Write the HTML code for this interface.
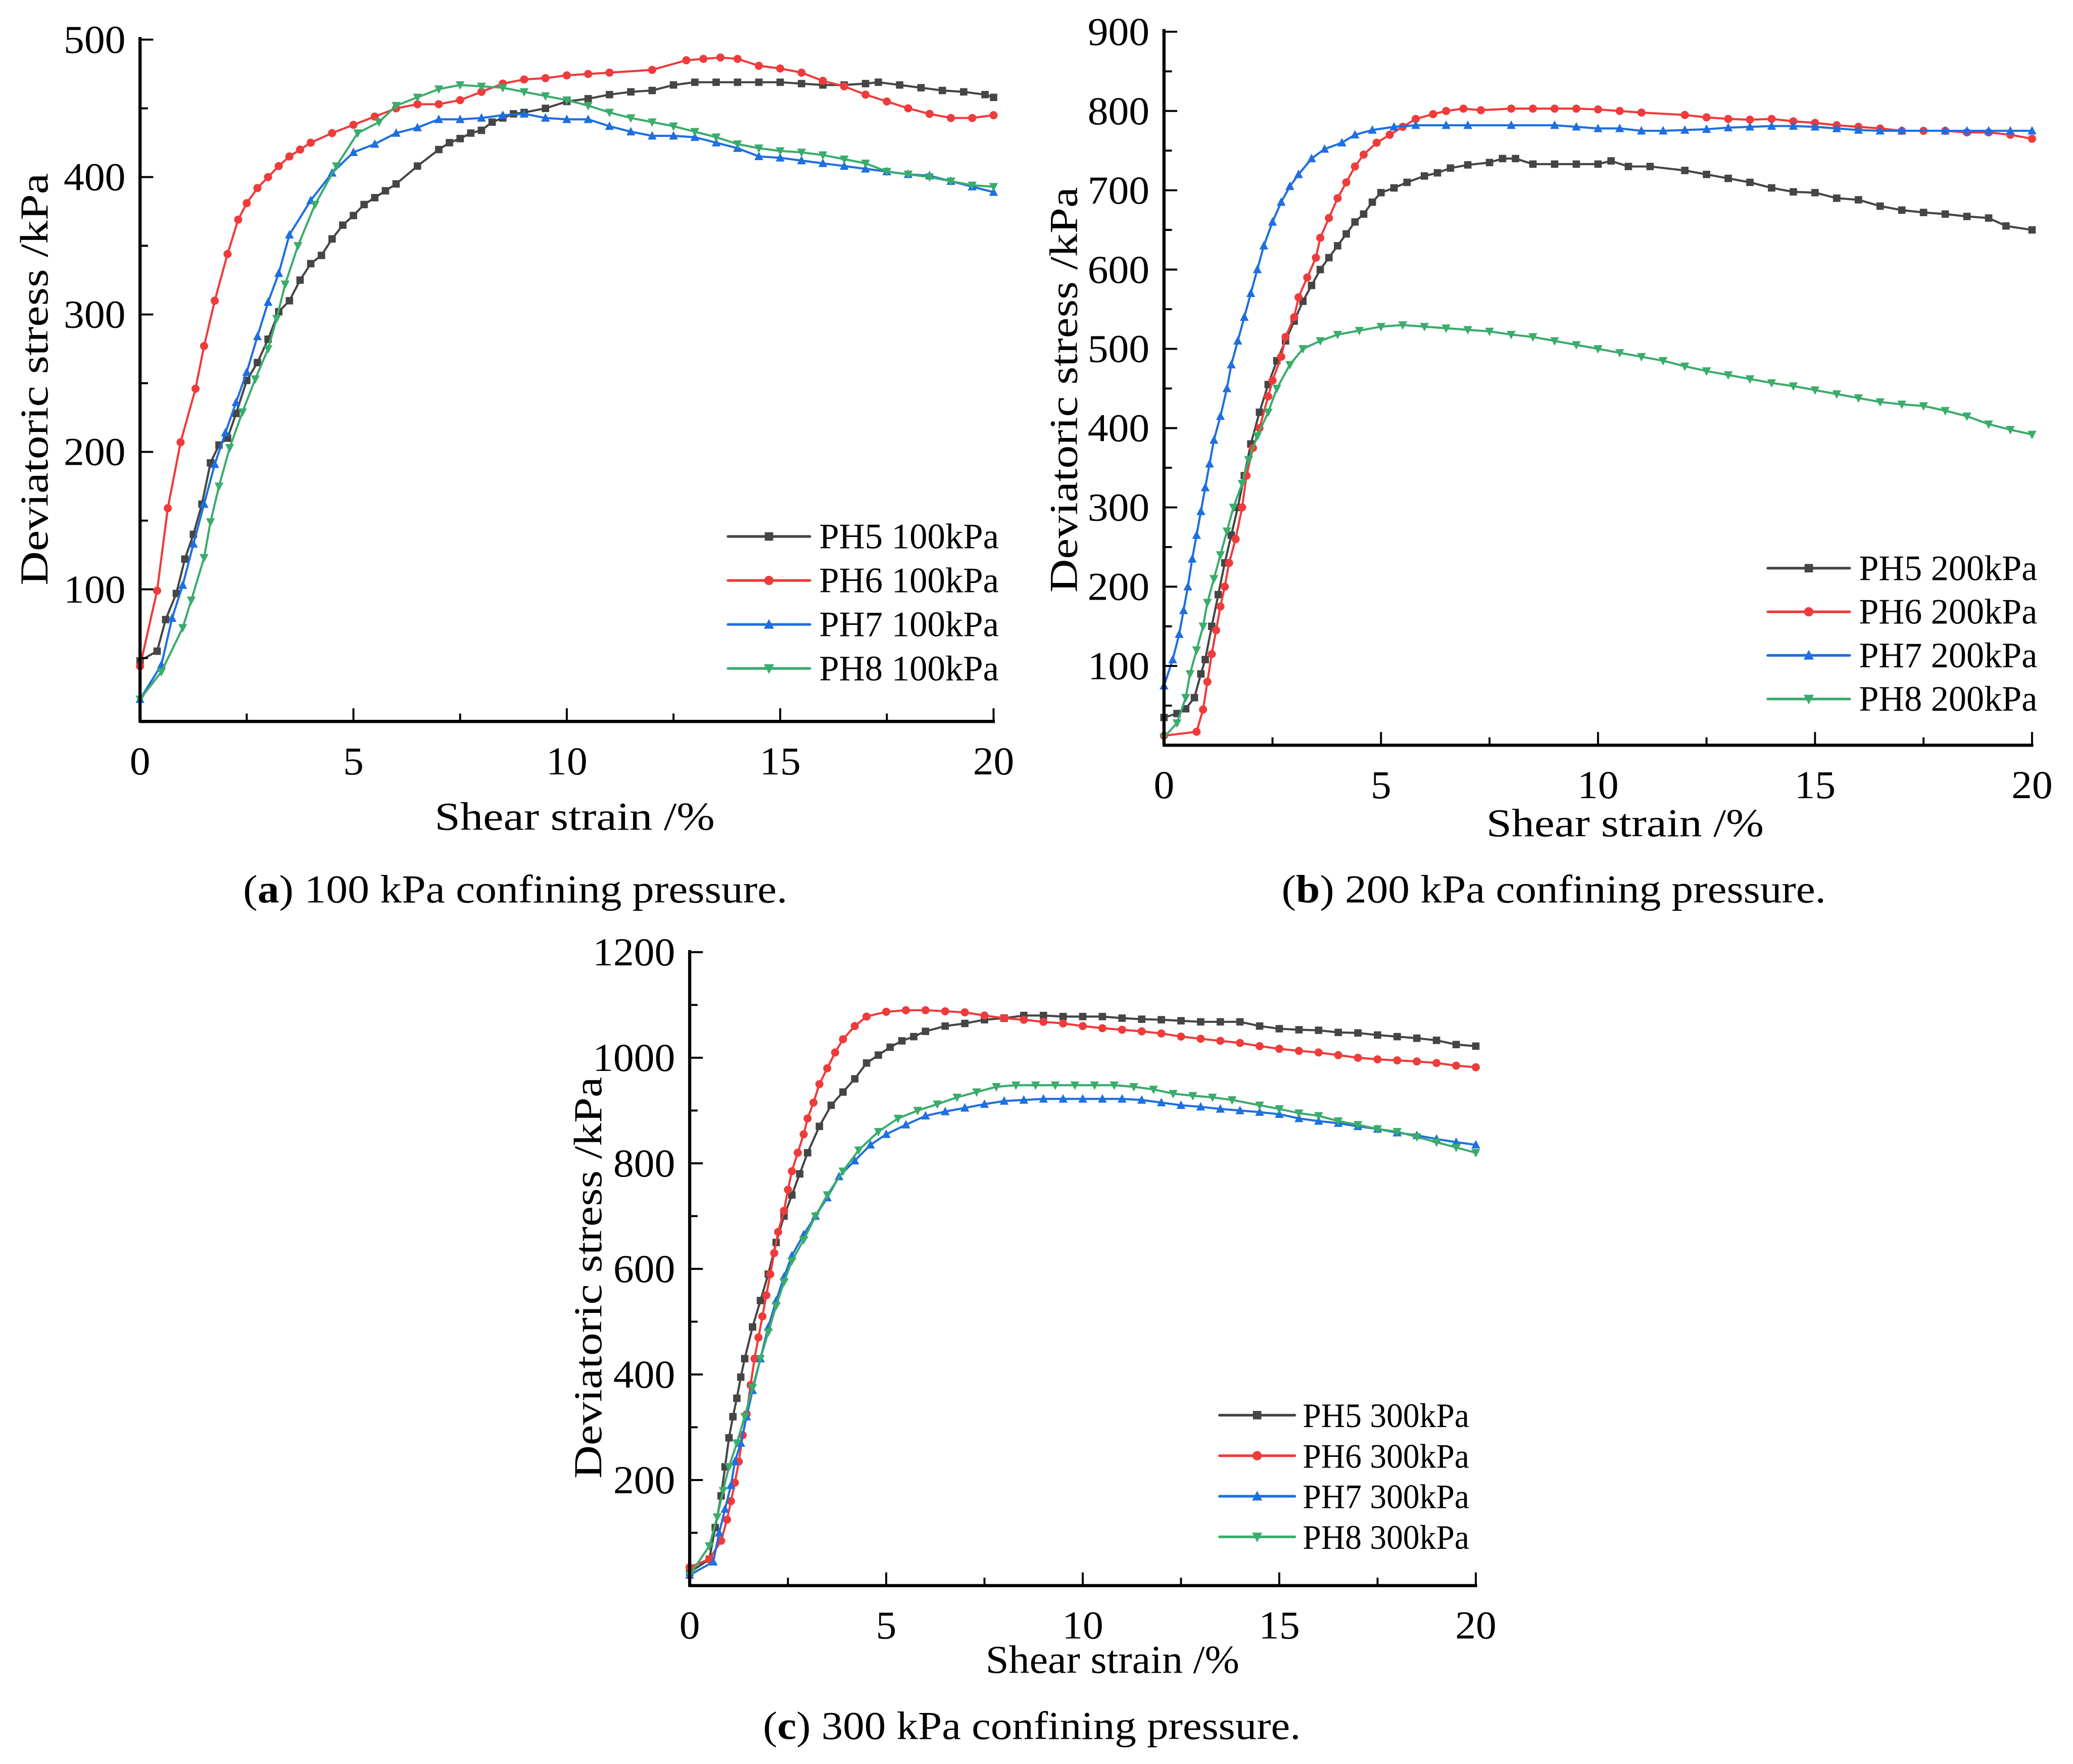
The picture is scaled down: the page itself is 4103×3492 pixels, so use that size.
<!DOCTYPE html>
<html><head><meta charset="utf-8"><style>
html,body{margin:0;padding:0;background:#fff;}
svg{display:block;}
text{font-family:"Liberation Serif","DejaVu Serif",serif;fill:#000;}
</style></head><body>
<svg id="fig" width="4103" height="3492" viewBox="0 0 1569 1335" preserveAspectRatio="none" xmlns="http://www.w3.org/2000/svg"></svg>
<script>
// ---------- data ----------
const seriesNames = ["PH5","PH6","PH7","PH8"];
const a_PH5 = [[0,48],[0.4,55],[0.6,78],[0.85,97],[1.05,122],[1.25,140],[1.45,162],[1.65,192],[1.85,205],[2.05,210],[2.25,228],[2.5,252],[2.75,265],[3,282],[3.25,302],[3.5,310],[3.75,325],[4,337],[4.25,343],[4.5,355],[4.75,365],[5,372],[5.25,380],[5.5,385],[5.75,390],[6,395],[6.5,408],[7,420],[7.25,425],[7.5,428],[7.75,432],[8,434],[8.25,440],[8.5,443],[8.75,446],[9,447],[9.5,450],[10,455],[10.5,457],[11,460],[11.5,462],[12,463],[12.5,467],[13,469],[13.5,469],[14,469],[14.5,469],[15,469],[15.5,468],[16,467],[16.5,467],[17,468],[17.3,469],[17.8,467],[18.3,465],[18.8,463],[19.3,462],[19.8,460],[20,458]];
const a_PH6 = [[0,44],[0.4,99],[0.65,159],[0.95,207],[1.3,246],[1.5,277],[1.75,310],[2.05,344],[2.3,369],[2.5,381],[2.75,392],[3,400],[3.25,408],[3.5,415],[3.75,420],[4,425],[4.5,432],[5,438],[5.5,444],[6,450],[6.5,453],[7,453],[7.5,456],[8,462],[8.5,468],[9,471],[9.5,472],[10,474],[10.5,475],[11,476],[12,478],[12.8,485],[13.2,486],[13.6,487],[14,486],[14.5,481],[15,479],[15.5,476],[16,470],[16.5,466],[17,460],[17.5,455],[18,450],[18.5,446],[19,443],[19.5,443],[20,445]];
const a_PH7 = [[0,20],[0.5,45],[0.75,79],[1,103],[1.25,133],[1.5,162],[1.75,191],[2,214],[2.25,236],[2.5,258],[2.75,284],[3,309],[3.25,330],[3.5,358],[4,383],[4.5,403],[5,418],[5.5,424],[6,432],[6.5,436],[7,442],[7.5,442],[8,443],[8.5,445],[9,446],[9.5,443],[10,442],[10.5,442],[11,437],[11.5,433],[12,430],[12.5,430],[13,429],[13.5,425],[14,421],[14.5,415],[15,414],[15.5,412],[16,410],[16.5,408],[17,406],[17.5,404],[18,402],[18.5,401],[19,397],[19.5,393],[20,389]];
const a_PH8 = [[0,20],[0.5,40],[1,72],[1.2,92],[1.5,123],[1.65,149],[1.85,175],[2.1,203],[2.4,229],[2.7,253],[3,275],[3.2,297],[3.4,322],[3.7,350],[4.1,380],[4.6,408],[5.1,432],[5.6,440],[6,452],[6.5,458],[7,464],[7.5,467],[8,466],[8.5,465],[9,462],[9.5,459],[10,456],[10.5,452],[11,447],[11.5,443],[12,440],[12.5,437],[13,433],[13.5,429],[14,424],[14.5,421],[15,419],[15.5,418],[16,416],[16.5,413],[17,410],[17.5,404],[18,402],[18.5,400],[19,397],[19.5,394],[20,393]];
const b_PH5 = [[0,35],[0.3,40],[0.5,46],[0.7,60],[0.85,90],[0.95,108],[1.1,150],[1.25,190],[1.4,230],[1.55,265],[1.7,300],[1.85,340],[2,380],[2.2,420],[2.4,455],[2.6,485],[2.8,510],[3,535],[3.2,560],[3.4,580],[3.6,600],[3.8,615],[4,630],[4.2,645],[4.4,660],[4.6,670],[4.8,685],[5,697],[5.3,703],[5.6,710],[6,718],[6.3,722],[6.6,728],[7,732],[7.5,735],[7.8,740],[8.1,740],[8.5,733],[9,733],[9.5,733],[10,733],[10.3,737],[10.7,730],[11.2,730],[12,725],[12.5,720],[13,715],[13.5,710],[14,703],[14.5,698],[15,697],[15.5,690],[16,688],[16.5,680],[17,675],[17.5,672],[18,670],[18.5,667],[19,665],[19.4,655],[20,650]];
const b_PH6 = [[0,12],[0.75,17],[0.9,45],[1,80],[1.1,115],[1.2,145],[1.3,175],[1.4,200],[1.5,230],[1.65,260],[1.8,300],[1.9,340],[2.05,375],[2.2,400],[2.4,440],[2.5,460],[2.7,490],[2.8,515],[3,540],[3.1,565],[3.3,590],[3.5,615],[3.6,640],[3.8,665],[4,690],[4.2,710],[4.4,730],[4.6,745],[4.9,760],[5.2,770],[5.5,780],[5.8,790],[6.2,796],[6.5,800],[6.9,803],[7.3,801],[8,803],[8.5,803],[9,803],[9.5,803],[10,802],[10.5,800],[11,798],[12,795],[12.5,792],[13,790],[13.5,789],[14,790],[14.5,787],[15,785],[15.5,782],[16,780],[16.5,778],[17,775],[17.5,775],[18,775],[18.5,773],[19,773],[19.5,770],[20,765]];
const b_PH7 = [[0,75],[0.2,108],[0.35,140],[0.45,170],[0.55,200],[0.65,235],[0.75,265],[0.85,295],[0.95,325],[1.05,355],[1.15,385],[1.3,415],[1.45,450],[1.55,480],[1.7,510],[1.85,540],[2,570],[2.15,600],[2.3,630],[2.5,660],[2.7,685],[2.9,705],[3.1,720],[3.4,740],[3.7,752],[4.1,760],[4.4,770],[4.8,776],[5.3,780],[5.8,782],[6.5,782],[7,782],[8,782],[9,782],[9.5,780],[10,778],[10.5,778],[11,775],[11.5,775],[12,776],[12.5,777],[13,779],[13.5,780],[14,781],[14.5,781],[15,780],[15.5,778],[16,776],[16.5,775],[17,775],[18,775],[18.5,775],[19,775],[19.5,775],[20,775]];
const b_PH8 = [[0,10],[0.3,28],[0.5,60],[0.6,90],[0.75,120],[0.9,150],[1,180],[1.15,210],[1.3,240],[1.45,270],[1.6,300],[1.8,330],[1.95,360],[2.15,390],[2.4,420],[2.6,450],[2.9,480],[3.2,500],[3.6,510],[4,518],[4.5,523],[5,528],[5.5,530],[6,528],[6.5,526],[7,524],[7.5,522],[8,518],[8.5,515],[9,510],[9.5,505],[10,500],[10.5,495],[11,490],[11.5,485],[12,478],[12.5,472],[13,467],[13.5,462],[14,457],[14.5,453],[15,448],[15.5,443],[16,438],[16.5,433],[17,430],[17.5,428],[18,422],[18.5,415],[19,405],[19.5,398],[20,392]];
const c_PH5 = [[0,25],[0.5,50],[0.65,110],[0.8,170],[0.9,225],[1,280],[1.1,320],[1.2,355],[1.3,395],[1.4,430],[1.6,490],[1.8,540],[2,590],[2.2,650],[2.4,700],[2.6,740],[2.8,780],[3,820],[3.3,870],[3.6,910],[3.9,935],[4.2,960],[4.5,990],[4.8,1005],[5.1,1020],[5.4,1032],[5.7,1040],[6,1050],[6.5,1060],[7,1065],[7.5,1072],[8,1075],[8.5,1080],[9,1080],[9.5,1078],[10,1078],[10.5,1078],[11,1075],[11.5,1073],[12,1072],[12.5,1070],[13,1068],[13.5,1068],[14,1068],[14.5,1060],[15,1055],[15.5,1053],[16,1052],[16.5,1048],[17,1047],[17.5,1043],[18,1040],[18.5,1037],[19,1033],[19.5,1025],[20,1022]];
const c_PH6 = [[0,35],[0.5,50],[0.8,85],[0.95,125],[1.05,160],[1.15,195],[1.25,235],[1.35,285],[1.45,325],[1.55,380],[1.65,430],[1.75,470],[1.85,510],[1.95,550],[2.05,590],[2.15,630],[2.25,670],[2.4,710],[2.5,750],[2.6,785],[2.75,820],[2.9,855],[3,885],[3.15,915],[3.3,950],[3.5,980],[3.7,1010],[3.9,1035],[4.2,1060],[4.5,1078],[5,1087],[5.5,1090],[6,1090],[6.5,1088],[7,1086],[7.5,1080],[8,1075],[8.5,1072],[9,1068],[9.5,1065],[10,1060],[10.5,1056],[11,1053],[11.5,1050],[12,1046],[12.5,1040],[13,1036],[13.5,1032],[14,1028],[14.5,1022],[15,1017],[15.5,1013],[16,1010],[16.5,1005],[17,1000],[17.5,997],[18,995],[18.5,993],[19,990],[19.5,985],[20,982]];
const c_PH7 = [[0,20],[0.6,45],[0.75,100],[0.9,145],[1.05,190],[1.15,235],[1.3,270],[1.45,320],[1.6,370],[1.8,430],[2,490],[2.2,540],[2.4,585],[2.6,625],[2.9,665],[3.2,700],[3.5,735],[3.8,775],[4.2,805],[4.6,835],[5,855],[5.5,873],[6,890],[6.5,898],[7,905],[7.5,912],[8,918],[8.5,920],[9,922],[9.5,922],[10,922],[10.5,922],[11,922],[11.5,920],[12,915],[12.5,910],[13,907],[13.5,903],[14,900],[14.5,897],[15,893],[15.5,885],[16,880],[16.5,876],[17,870],[17.5,865],[18,858],[18.5,853],[19,846],[19.5,840],[20,835]];
const c_PH8 = [[0,20],[0.5,75],[0.7,130],[0.85,180],[1,225],[1.2,270],[1.4,320],[1.6,375],[1.8,430],[2,480],[2.2,530],[2.4,575],[2.6,615],[2.9,655],[3.2,700],[3.5,740],[3.9,785],[4.3,825],[4.8,860],[5.3,885],[5.8,900],[6.3,912],[6.8,925],[7.3,935],[7.8,945],[8.3,948],[8.8,948],[9.3,948],[9.8,948],[10.3,948],[10.8,948],[11.3,945],[11.8,940],[12.3,932],[12.8,928],[13.3,925],[13.8,920],[14.5,910],[15,903],[15.5,895],[16,890],[16.5,880],[17,873],[17.5,865],[18,860],[18.5,850],[19,840],[19.5,830],[20,820]];
const xTicks = [0,5,10,15,20];
const a_yTicks = [100,200,300,400,500];
const b_yTicks = [100,200,300,400,500,600,700,800,900];
const c_yTicks = [200,400,600,800,1000,1200];

// ---------- drawing ----------
const NS="http://www.w3.org/2000/svg";
const svg=document.getElementById('fig');
const COLORS=["#454545","#ef3b3b","#1e6fe0","#3aac6c"];
const MARK=["square","circle","up","down"];
const DIGIT_W=15.6;
function el(tag,attrs,parent){const e=document.createElementNS(NS,tag);for(const k in attrs)e.setAttribute(k,attrs[k]);(parent||svg).appendChild(e);return e;}

function marker(g,type,x,y,c,s){
  let m;
  if(type==="square") m=el('rect',{x:x-s,y:y-s,width:2*s,height:2*s,fill:c},g);
  else if(type==="circle") m=el('circle',{cx:x,cy:y,r:s*1.1,fill:c},g);
  else if(type==="up") m=el('polygon',{points:`${x},${y-s*1.3} ${x-s*1.2},${y+s} ${x+s*1.2},${y+s}`,fill:c},g);
  else m=el('polygon',{points:`${x},${y+s*1.3} ${x-s*1.2},${y-s} ${x+s*1.2},${y-s}`,fill:c},g);
  return m;
}

function panel(p){
  const g=el('g',{});
  
  
  const X=v=>p.x0+v*(p.x1-p.x0)/20;
  const Y=v=>p.yZero-v*p.yScale;
  p.series.forEach((data,i)=>{
    const sg=el('g',{},g);
    
    
    el('polyline',{points:data.map(d=>`${X(d[0])},${Y(d[1])}`).join(' '),fill:'none',stroke:COLORS[i],'stroke-width':1.6},sg);
    data.forEach(d=>marker(sg,MARK[i],X(d[0]),Y(d[1]),COLORS[i],2.8));
  });
  const ax=el('g',{},g);
  
  
  el('line',{x1:p.x0,y1:p.yBot,x2:p.x1+1,y2:p.yBot,stroke:'#000','stroke-width':2.4},ax);
  el('line',{x1:p.x0,y1:p.yBot+1,x2:p.x0,y2:p.yTop,stroke:'#000','stroke-width':2.4},ax);
  for(let v=0;v<=20;v+=2.5){
    const major=v%5===0;
    el('line',{x1:X(v),y1:p.yBot,x2:X(v),y2:p.yBot-(major?10:6),stroke:'#000','stroke-width':1.5},ax);
  }
  xTicks.forEach(v=>{const s=String(v);const t=el('text',{x:X(v),y:p.yBot+40,'text-anchor':'middle','font-size':30,textLength:s.length*DIGIT_W,lengthAdjust:'spacingAndGlyphs'},ax);t.textContent=s;
    });
  const step=p.yTicks[1]-p.yTicks[0];
  for(let v=p.yTicks[0]-step/2;v<=p.yTicks[p.yTicks.length-1]+0.1;v+=step/2){
    if(Y(v)>p.yBot) continue;
    const major=Math.abs((v/step)-Math.round(v/step))<1e-6;
    el('line',{x1:p.x0,y1:Y(v),x2:p.x0+(major?10:6),y2:Y(v),stroke:'#000','stroke-width':1.5},ax);
  }
  p.yTicks.forEach(v=>{const s=String(v);const t=el('text',{x:p.x0-11,y:Y(v)+10,'text-anchor':'end','font-size':30,textLength:s.length*DIGIT_W,lengthAdjust:'spacingAndGlyphs'},ax);t.textContent=s;
    });
  const xl=el('text',{x:p.xlx,y:p.xly,'text-anchor':'middle','font-size':30,textLength:p.xlw,lengthAdjust:'spacingAndGlyphs'},g);xl.textContent='Shear strain /%';
  
  const yl=el('text',{x:0,y:0,'text-anchor':'middle','font-size':30,textLength:p.ylw,lengthAdjust:'spacingAndGlyphs',transform:`translate(${p.ylx},${p.yly}) rotate(-90)`},g);yl.textContent='Deviatoric stress /kPa';
  
  const lg=el('g',{},g);
  
  
  seriesNames.forEach((n,i)=>{
    const y=p.legY+i*p.legDy;
    const eg=el('g',{},lg);
    
    
    el('line',{x1:p.legX,y1:y,x2:p.legX2,y2:y,stroke:COLORS[i],'stroke-width':2,'stroke-linecap':'round'},eg);
    marker(eg,MARK[i],(p.legX+p.legX2)/2,y,COLORS[i],3.2);
    const t=el('text',{x:p.legTX,y:y+9,'font-size':p.legFs,textLength:p.legW,lengthAdjust:'spacingAndGlyphs'},eg);t.textContent=`${n} ${p.kpa}kPa`;
  });
  const cap=el('text',{x:p.capX,y:p.capY,'text-anchor':'middle','font-size':30,textLength:p.capW,lengthAdjust:'spacingAndGlyphs'},g);
  
  const b=document.createElementNS(NS,'tspan');b.textContent=p.capL;cap.appendChild(document.createTextNode('('));
  b.setAttribute('font-weight','bold');cap.appendChild(b);cap.appendChild(document.createTextNode(') '+p.capText));
}

panel({name:'panel-a',x0:106,x1:752,yZero:550,yScale:1.04,yBot:546,yTop:28,yTicks:a_yTicks,series:[a_PH5,a_PH6,a_PH7,a_PH8],
  xlx:435,xly:628,xlw:212,ylx:36,yly:287,ylw:312,legX:551,legX2:613,legTX:620,legW:136,legFs:27,legY:406,legDy:33.3,kpa:100,capX:390,capY:683,capW:412,capL:'a',capText:'100 kPa confining pressure.'});
panel({name:'panel-b',x0:881,x1:1538,yZero:564,yScale:0.6,yBot:564,yTop:22,yTicks:b_yTicks,series:[b_PH5,b_PH6,b_PH7,b_PH8],
  xlx:1230,xly:633,xlw:210,ylx:815,yly:295,ylw:307,legX:1338,legX2:1400,legTX:1407,legW:135,legFs:27,legY:430,legDy:33,kpa:200,capX:1176,capY:683,capW:412,capL:'b',capText:'200 kPa confining pressure.'});
panel({name:'panel-c',x0:522,x1:1117,yZero:1200,yScale:0.3995,yBot:1200,yTop:719,yTicks:c_yTicks,series:[c_PH5,c_PH6,c_PH7,c_PH8],
  xlx:842,xly:1266,xlw:192,ylx:455,yly:967,ylw:304,legX:923,legX2:980,legTX:986,legW:126,legFs:26,legY:1071,legDy:30.7,kpa:300,capX:781,capY:1316,capW:407,capL:'c',capText:'300 kPa confining pressure.'});
</script>
</body></html>
